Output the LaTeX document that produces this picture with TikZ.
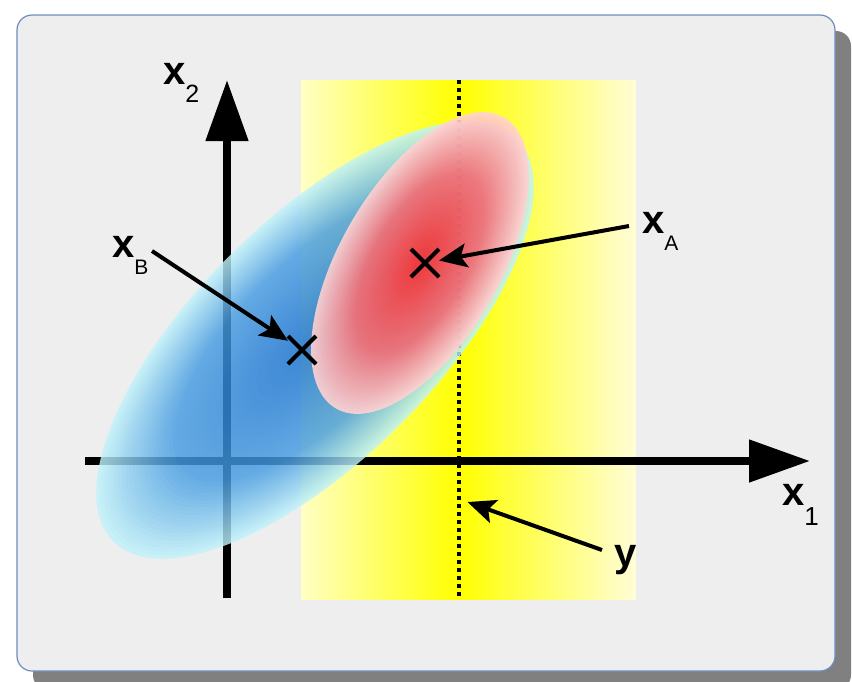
\documentclass[tikz,border=0pt]{standalone}
\usepackage{fontspec}
\setmainfont{Liberation Sans}
\usepackage{xcolor}
\usepackage{tikz}
\usetikzlibrary{arrows.meta, shapes.misc}

\definecolor{panelgray}{HTML}{EEEEEE}
\definecolor{panelrim}{HTML}{6F8CBF}
\definecolor{shadowgray}{HTML}{808080}
\definecolor{bandedge}{RGB}{255,255,196}
\definecolor{bandfade}{RGB}{255,253,215}
\definecolor{bluecore}{RGB}{18,108,206}
\definecolor{bluemid}{RGB}{70,156,226}
\definecolor{bluerim}{RGB}{192,242,250}
\definecolor{redcore}{RGB}{255,45,45}
\definecolor{redmid}{RGB}{246,112,118}
\definecolor{redrim}{RGB}{255,210,210}

\newcommand{\vsub}[3]{\raisebox{-#2}{\fontsize{#1}{#1}\selectfont\mdseries #3}}

\begin{document}
\begin{tikzpicture}[
        x=1pt, y=-1pt,
        panel/.style={
            draw=panelrim,
            fill=panelgray,
            line width=1.2pt,
            rounded corners=15pt
        },
        axisline/.style={line width=8pt, -{Triangle[length=61pt, width=41pt]}},
        dotline/.style={line width=4pt, dash pattern=on 4pt off 4pt},
        pointer/.style={line width=4pt, -{Stealth[length=28pt, width=24pt, inset=6pt]}},
        crossmark/.style={
            draw,
            cross out,
            line width=4pt,
            minimum size=24pt,
            inner sep=0pt
        },
        vlabel/.style={
            inner sep=0pt,
            anchor=base west,
            font=\fontsize{40pt}{40pt}\selectfont\bfseries
        }
    ]

    \useasboundingbox (0,0) rectangle (852,681);

    \fill [shadowgray, rounded corners=15pt] (33,31) rectangle (851,690);
    \draw [panel] (17,15) rectangle (835,671);

    \shade [left color=bandedge, right color=yellow] (301,80) rectangle (459,599);
    \shade [left color=yellow, right color=bandfade] (459,80) rectangle (636,599);

    \coordinate (dotTop) at (459,80);
    \coordinate (dotBot) at (459,599);
    \draw [dotline] (dotTop) -- (dotBot);

    \coordinate (xStart) at (85,461);
    \coordinate (xEnd) at (810,461);
    \coordinate (yStart) at (227,598);
    \coordinate (yEnd) at (227,80);
    \draw [axisline] (xStart) -- (xEnd);
    \draw [axisline] (yStart) -- (yEnd);

    \begin{scope}[shift={(315,340)}, rotate=45, transparency group, opacity=0.82]
        \foreach \i in {0,...,59} {
            \pgfmathsetmacro{\f}{1-\i/60}
            \ifdim \f pt > 0.65pt
                \pgfmathsetmacro{\p}{100*(1-\f)/0.35}
                \colorlet{ringcol}{bluemid!\p!bluerim}
            \else
                \pgfmathsetmacro{\p}{100*(0.65-\f)/0.65}
                \colorlet{ringcol}{bluecore!\p!bluemid}
            \fi
            \fill [ringcol] (0,0) ellipse ({285pt*\f} and {120pt*\f});
        }
    \end{scope}
    \begin{scope}[shift={(420,263)}, rotate=60, transparency group, opacity=0.9]
        \foreach \i in {0,...,59} {
            \pgfmathsetmacro{\f}{1-\i/60}
            \ifdim \f pt > 0.6pt
                \pgfmathsetmacro{\p}{100*(1-\f)/0.4}
                \colorlet{ringcol}{redmid!\p!redrim}
            \else
                \pgfmathsetmacro{\p}{100*(0.6-\f)/0.6}
                \colorlet{ringcol}{redcore!\p!redmid}
            \fi
            \fill [ringcol] (0,0) ellipse ({168pt*\f} and {80pt*\f});
        }
    \end{scope}

    \node (crossA) [crossmark] at (425,263) {};
    \node (crossB) [crossmark] at (302,350) {};

    \node (labTwo) [vlabel] at (163,84) {x\vsub{25pt}{18pt}{2}};
    \node (labA) [vlabel] at (642,233) {x\vsub{21pt}{17pt}{A}};
    \node (labB) [vlabel] at (112,257) {x\vsub{21pt}{17pt}{B}};
    \node (labOne) [vlabel] at (782,505) {x\vsub{26pt}{20pt}{1}};
    \node (labY) [vlabel] at (614,566) {y};

    \coordinate (tailA) at (629,226);
    \coordinate (tailB) at (152,251);
    \coordinate (tailY) at (602,550);
    \coordinate (dotY) at (459,499);

    \draw [pointer] (tailA) -- (crossA);
    \draw [pointer] (tailB) -- (crossB);
    \draw [pointer, shorten >=9pt] (tailY) -- (dotY);

\end{tikzpicture}
\end{document}
